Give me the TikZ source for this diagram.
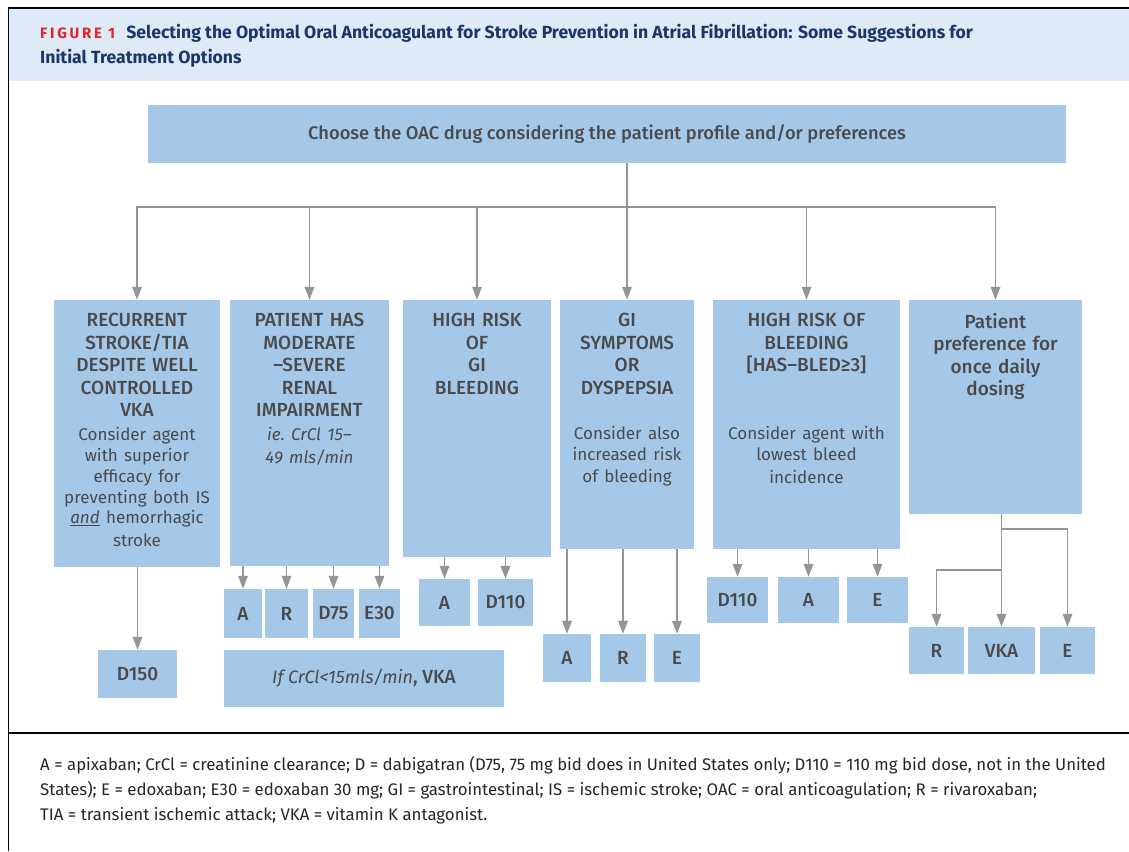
\documentclass[tikz,border=0pt]{standalone}
\usepackage{fontspec}
\setmainfont{Fira Sans}
\newfontfamily\medfont{Fira Sans Medium}
\usetikzlibrary{arrows.meta}

\definecolor{boxblue}{HTML}{A6C8E8}
\definecolor{bandblue}{HTML}{DEEAF6}
\definecolor{txtgray}{HTML}{4A4A4C}
\definecolor{arrowgray}{HTML}{939598}
\definecolor{navy}{HTML}{1B3668}
\definecolor{figred}{HTML}{E2242F}
\newcommand{\headfont}{\medfont\fontsize{19}{22.5}\selectfont}
\newcommand{\bodyfont}{\normalfont\fontsize{17}{20.8}\selectfont}

\begin{document}
\begin{tikzpicture}[x=1pt,y=-1pt]
    % 设置样式
    \tikzset{
        cond/.style={rectangle, fill=boxblue, draw=none, inner sep=0pt},
        condtext/.style={anchor=north, align=center, inner xsep=0pt, inner ysep=13.5pt, text=txtgray, font=\headfont},
        drug/.style={rectangle, fill=boxblue, draw=none, inner sep=0pt, text=txtgray, font=\headfont},
        arrow/.style={draw=arrowgray, line width=1.8pt, -{Triangle[width=9.5pt,length=13pt]}},
        link/.style={draw=arrowgray, line width=1.8pt},
        frame/.style={draw=black, line width=1.8pt},
    }
    \useasboundingbox (0,0) rectangle (1129,851);

    % 标题栏和外框
    \fill[bandblue] (8.5,8) rectangle (1129,80.5);
    \draw[frame] (1129,8) -- (8.5,8) -- (8.5,851);
    \draw[frame] (8.5,733) -- (1129,733);
    \node[anchor=west, align=left, inner sep=0pt, text=navy, font=\bfseries\fontsize{17.6}{25}\selectfont] (title) at (40,45.5)
        {{\color{figred}\fontsize{15}{25}\selectfont\addfontfeature{LetterSpace=18}FIGURE 1}\hspace{7pt} Selecting the Optimal Oral Anticoagulant for Stroke Prevention in Atrial Fibrillation: Some Suggestions for\\Initial Treatment Options};

    % 顶部方框
    \node[cond, minimum width=918pt, minimum height=57.5pt, text=txtgray, font=\medfont\fontsize{18.3}{22}\selectfont] (oac) at (607,133.75)
        {Choose the OAC drug considering the patient profile and/or preferences};

    % 六个条件方框
    \node[cond, minimum width=166pt, minimum height=267pt] (c1) at (137,433.5) {};
    \node[cond, minimum width=159pt, minimum height=266pt] (c2) at (309.5,433) {};
    \node[cond, minimum width=148pt, minimum height=257pt] (c3) at (477,428.5) {};
    \node[cond, minimum width=134pt, minimum height=249pt] (c4) at (627,424.5) {};
    \node[cond, minimum width=187pt, minimum height=249pt] (c5) at (806.5,424.5) {};
    \node[cond, minimum width=173pt, minimum height=214pt] (c6) at (995.5,407) {};

    \node[condtext, text width=166pt] (t1) at (c1.north)
        {RECURRENT\\STROKE/TIA\\DESPITE WELL\\CONTROLLED\\VKA\par\vspace{3pt}\bodyfont Consider agent\\with superior\\efficacy for\\preventing both IS\\\underline{\textit{and}} hemorrhagic\\stroke};
    \node[condtext, text width=159pt] (t2) at (c2.north)
        {PATIENT HAS\\MODERATE\\–SEVERE\\RENAL\\IMPAIRMENT\par\vspace{3pt}\bodyfont\itshape ie.\ CrCl 15–\\49 mls/min};
    \node[condtext, text width=148pt] (t3) at (c3.north)
        {HIGH RISK\\OF\\GI\\BLEEDING};
    \node[condtext, text width=134pt] (t4) at (c4.north)
        {GI\\SYMPTOMS\\OR\\DYSPEPSIA\par\vspace{24.2pt}\bodyfont Consider also\\increased risk\\of bleeding};
    \node[condtext, text width=187pt] (t5) at (c5.north)
        {HIGH RISK OF\\BLEEDING\\{[}HAS–BLED≥3{]}\par\vspace{47pt}\bodyfont Consider agent with\\lowest bleed\\incidence};
    \node[condtext, text width=173pt, inner ysep=13pt] (t6) at (c6.north)
        {Patient\\preference for\\once daily\\dosing};

    % 分支连线
    \coordinate (bus) at (627,207);
    \draw[link] (oac.south -| c4.north) -- (bus);
    \draw[arrow] (bus) -| (c1.north);
    \draw[arrow] (bus) -| (c6.north);
    \foreach \i in {2,3,4,5} {
        \draw[arrow] (bus -| c\i.north) -- (c\i.north);
    }

    % 药物方框
    \node[drug, minimum width=79pt, minimum height=48pt] (d150) at (137.5,674) {D150};
    \draw[arrow] (c1.south -| d150.north) -- (d150.north);

    \foreach \n/\x/\w/\t in {a/243/38/A, r/286.5/43/R, d/333.5/41/D75, e/379.5/41/E30} {
        \node[drug, minimum width=\w pt, minimum height=49pt] (r2\n) at (\x,613.5) {\t};
        \draw[arrow] (c2.south -| r2\n.north) -- (r2\n.north);
    }
    \node[drug, minimum width=280pt, minimum height=57pt] (vka2) at (364,678.5)
        {{\bodyfont\fontsize{18}{22}\selectfont\itshape If CrCl<15mls/min}, VKA};

    \foreach \n/\x/\w/\t in {a/444.5/51/A, d/505.5/55/D110} {
        \node[drug, minimum width=\w pt, minimum height=47pt] (r3\n) at (\x,602.5) {\t};
        \draw[arrow] (c3.south -| r3\n.north) -- (r3\n.north);
    }

    \foreach \n/\x/\w/\t in {a/567/48/A, r/623/46/R, e/677/46/E} {
        \node[drug, minimum width=\w pt, minimum height=48pt] (r4\n) at (\x,658) {\t};
        \draw[arrow] (c4.south -| r4\n.north) -- (r4\n.north);
    }

    \foreach \n/\x/\w/\t in {d/737.5/61/D110, a/808.5/61/A, e/877.5/61/E} {
        \node[drug, minimum width=\w pt, minimum height=46pt] (r5\n) at (\x,600) {\t};
        \draw[arrow] (c5.south -| r5\n.north) -- (r5\n.north);
    }

    \foreach \n/\x/\w/\t in {r/936.5/55/R, v/1001.5/67/VKA, e/1067.5/55/E} {
        \node[drug, minimum width=\w pt, minimum height=47pt] (r6\n) at (\x,650.5) {\t};
    }
    \coordinate (j6r) at (1001.5,529);
    \coordinate (j6l) at (1001.5,570);
    \draw[arrow] (c6.south -| r6v.north) -- (r6v.north);
    \draw[arrow] (j6r) -| (r6e.north);
    \draw[arrow] (j6l) -| (r6r.north);

    % 图注
    \node[anchor=west, align=left, inner sep=0pt, text=black!85, font=\fontsize{16.8}{25}\selectfont] (legend) at (40,790)
        {A = apixaban; CrCl = creatinine clearance; D = dabigatran (D75, 75 mg bid does in United States only; D110 = 110 mg bid dose, not in the United\\
         States); E = edoxaban; E30 = edoxaban 30 mg; GI = gastrointestinal; IS = ischemic stroke; OAC = oral anticoagulation; R = rivaroxaban;\\
         TIA = transient ischemic attack; VKA = vitamin K antagonist.};
\end{tikzpicture}
\end{document}
